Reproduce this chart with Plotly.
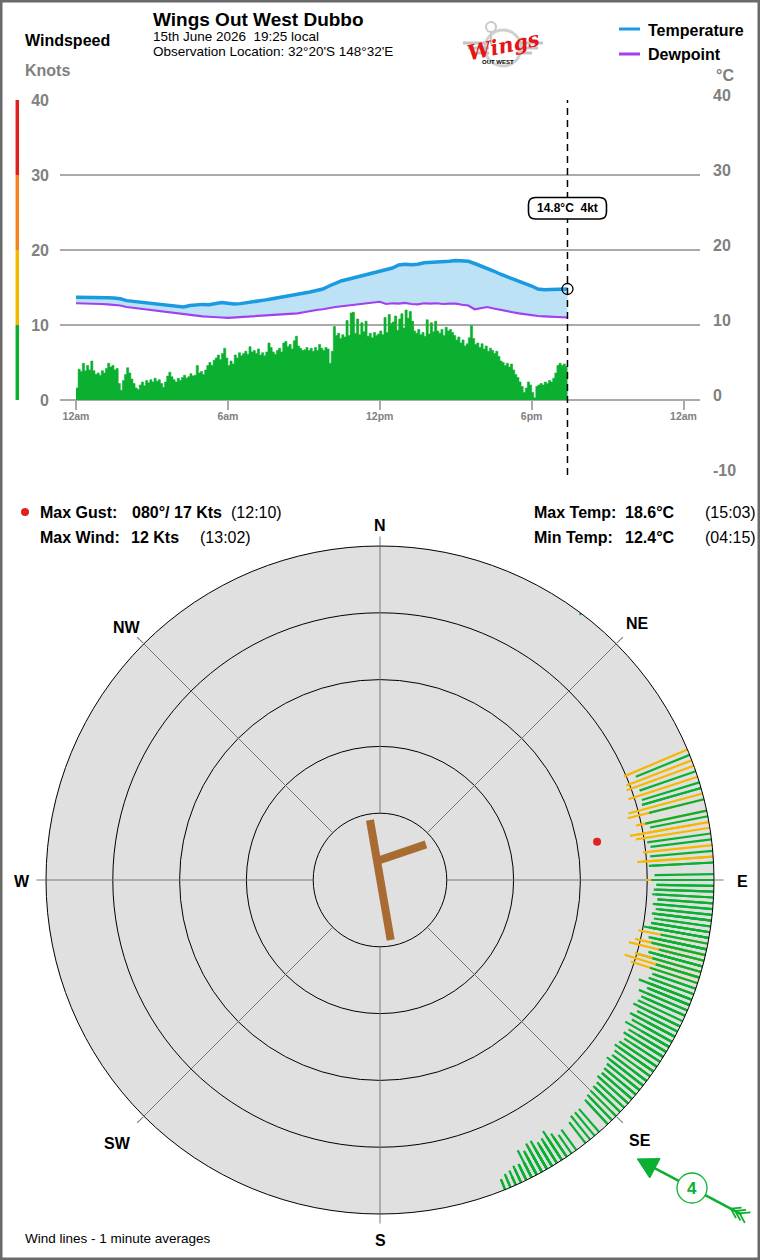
import math
import plotly.graph_objects as go

W, H = 760, 1260
FONT = "Liberation Sans, Arial, Helvetica, sans-serif"
GRAY = "#808080"
GREEN = "#0bb031"
YELLOW = "#f5b700"
ORANGE = "#f5821f"
RED = "#e11f1f"
BLUE = "#1a9ae0"
PURPLE = "#a040f0"
FILL = "#bde2f6"
BROWN = "#a86b32"

# ---------------- data ----------------
# 5-minute wind samples (knots) from 00:00 to 19:25
wind_kts = [
    1.6, 4.1, 3.8, 4.9, 3.9, 4.6, 4.0, 5.2, 3.9, 3.4,
    3.6, 3.3, 3.9, 3.6, 4.2, 4.9, 4.4, 4.6, 4.0, 4.2,
    2.2, 1.3, 2.6, 3.4, 4.3, 3.6, 2.8, 2.2, 1.6, 1.4,
    2.0, 2.4, 1.9, 2.6, 2.3, 2.7, 2.4, 2.9, 2.5, 2.7,
    2.2, 1.7, 2.4, 3.2, 3.7, 3.1, 2.7, 2.4, 2.9, 2.6,
    3.0, 3.3, 2.9, 3.1, 3.5, 3.2, 3.3, 4.6, 3.6, 3.8,
    3.4, 4.0, 4.6, 5.0, 4.6, 5.3, 5.6, 6.0, 5.4, 6.2,
    6.9, 5.6, 4.6, 5.2, 4.8, 6.0, 5.6, 6.3, 5.9, 6.2,
    6.5, 6.1, 7.1, 6.4, 6.6, 6.2, 6.8, 6.0, 6.3, 5.9,
    6.4, 7.6, 7.0, 6.4, 6.1, 6.6, 6.9, 6.4, 7.6, 7.8,
    7.1, 7.4, 6.8, 7.9, 8.5, 7.2, 6.9, 6.6, 6.7, 7.0,
    6.6, 6.9, 6.5, 7.0, 6.6, 7.4, 6.9, 6.6, 7.0, 6.8,
    4.9, 6.5, 9.8, 8.6, 8.9, 8.2, 8.7, 8.4, 10.6, 8.6,
    11.6, 11.7, 8.9, 10.8, 8.7, 10.3, 9.1, 10.5, 8.5, 8.9,
    8.3, 9.0, 8.6, 8.8, 9.2, 8.7, 11.0, 9.0, 11.4, 10.2,
    10.4, 11.2, 9.3, 10.8, 11.5, 9.6, 12.0, 10.9, 11.8, 10.5,
    9.2, 8.9, 9.4, 8.7, 9.0, 8.5, 10.7, 8.8, 10.3, 9.1,
    10.5, 9.2, 8.9, 9.4, 8.6, 9.7, 9.2, 9.4, 9.0, 8.6,
    8.0, 8.4, 7.6, 8.0, 7.2, 7.5, 8.3, 9.9, 8.2, 7.4,
    7.6, 7.0, 7.5, 6.8, 7.2, 6.5, 6.9, 6.6, 6.2, 6.5,
    5.8, 5.2, 5.0, 4.6, 4.9, 4.4, 4.8, 4.0, 3.4, 3.0,
    2.4, 1.8, 1.0, 1.6, 2.4, 2.0, 1.0, 0.3, 1.8, 2.0,
    2.2, 2.0, 2.4, 2.2, 2.6, 2.4, 2.9, 3.6, 4.6, 4.9,
    4.6, 4.8, 4.5, 4.9,
]
# wind direction (degrees true) for the same samples
wind_dir = [
    150, 152, 148, 151, 149, 153, 150, 147, 151, 149,
    150, 148, 152, 149, 146, 150, 148, 151, 147, 149,
    153, 156, 151, 149, 147, 152, 155, 157, 158, 156,
    154, 152, 157, 153, 155, 151, 154, 150, 153, 152,
    155, 158, 153, 150, 148, 151, 154, 156, 152, 154,
    150, 148, 152, 149, 146, 149, 147, 141, 146, 144,
    145, 142, 139, 137, 140, 136, 134, 131, 135, 132,
    128, 133, 137, 134, 136, 131, 133, 129, 132, 130,
    127, 130, 125, 128, 126, 129, 124, 127, 125, 128,
    123, 120, 122, 125, 124, 121, 119, 122, 118, 116,
    118, 115, 117, 113, 111, 114, 116, 112, 114, 111,
    112, 109, 111, 107, 110, 105, 107, 104, 102, 105,
    104, 100, 106, 102, 99, 103, 100, 105, 101, 98,
    104, 107, 99, 103, 97, 106, 100, 108, 96, 102,
    94, 97, 91, 95, 90, 93, 80, 92, 86, 90,
    84, 81, 87, 78, 75, 82, 80, 72, 76, 69,
    74, 71, 78, 68, 73, 76, 70, 79, 67, 74,
    86, 83, 89, 85, 91, 87, 93, 90, 95, 92,
    97, 94, 99, 96, 101, 98, 103, 100, 105, 102,
    106, 104, 108, 107, 110, 109, 112, 111, 114, 113,
    112, 116, 119, 117, 121, 118, 123, 120, 125, 122,
    126, 130, 128, 132, 127, 131, 135, 37, 129, 127,
    124, 126, 122, 125, 121, 123, 120, 122, 119, 121,
    118, 120, 117, 118,
]
# quarter-hourly temperature / dewpoint (deg C), last value at 19:25
temp_hours = [i * 0.25 for i in range(78)] + [19 + 25 / 60]
temp_c = [
    13.7, 13.7, 13.75, 13.7, 13.65, 13.65, 13.6, 13.5, 13.25, 13.15, 13.05, 13.0,
    12.9, 12.75, 12.7, 12.6, 12.5, 12.4, 12.6, 12.7, 12.75, 12.7, 12.85, 13.0,
    12.9, 12.8, 12.85, 12.95, 13.05, 13.2, 13.35, 13.5, 13.65, 13.75, 13.9, 14.0,
    14.2, 14.4, 14.6, 14.8, 15.2, 15.6, 15.9, 16.1, 16.3, 16.5, 16.7, 16.9,
    17.1, 17.3, 17.6, 18.0, 18.1, 18.05, 18.1, 18.3, 18.35, 18.3, 18.45, 18.5,
    18.6, 18.55, 18.5, 18.2, 17.9, 17.6, 17.2, 16.8, 16.5, 16.2, 15.9, 15.6,
    15.2, 14.8, 14.7, 14.75, 14.75, 14.8,
    14.8,
]
dew_c = [
    12.9, 12.9, 12.85, 12.85, 12.8, 12.75, 12.7, 12.6, 12.4, 12.3, 12.2, 12.1,
    12.0, 11.85, 11.7, 11.6, 11.5, 11.4, 11.3, 11.25, 11.15, 11.1, 11.0, 11.0,
    10.95, 11.0, 11.05, 11.1, 11.15, 11.2, 11.25, 11.3, 11.3, 11.35, 11.4, 11.55,
    11.7, 11.9, 12.0, 12.1, 12.3, 12.4, 12.5, 12.65, 12.7, 12.8, 12.9, 13.0,
    13.1, 12.8, 12.9, 12.85, 12.95, 12.8, 12.75, 12.9, 12.85, 12.9, 12.8, 12.85,
    12.85, 12.7, 12.6, 12.1, 12.3, 12.4, 12.2, 12.0, 11.85, 11.7, 11.55, 11.4,
    11.3, 11.2, 11.15, 11.1, 11.05, 11.0,
    11.0,
]
x_tick_vals = [0, 6, 12, 18, 24]
x_tick_text = ["12am", "6am", "12pm", "6pm", "12am"]
y_tick_vals = [-10, 0, 10, 20, 30, 40]
compass_labels = ["N", "NE", "E", "SE", "S", "SW", "W", "NW"]

now_hour = 19 + 25 / 60
current_wind_kts = 4
current_wind_dir = 118
max_gust_kts, max_gust_dir, max_gust_time = 17, 80, "12:10"
max_gust_hour = 12 + 10 / 60
max_wind_kts, max_wind_time = 12, "13:02"
max_temp_time, min_temp_time = "15:03", "04:15"
runway_long_r, runway_long_theta = [9.1, 9.12], [350.5, 169.9]
runway_short_r, runway_short_theta = [3.0, 8.71], [0, 52.2]

wind_hours = [i * 5 / 60 for i in range(len(wind_kts))]


def px(x):
    return x / W


def py(y):
    return 1 - y / H


fig = go.Figure()

# ---------------- top chart ----------------
fig.add_trace(go.Scatter(
    x=wind_hours, y=wind_kts, mode="lines",
    line=dict(color=GREEN, width=0.6, shape="hv"),
    fill="tozeroy", fillcolor=GREEN, xaxis="x", yaxis="y", showlegend=False))
gx = [h for h, v in zip(wind_hours, wind_kts) if v > 10]
gy = [v for v in wind_kts if v > 10]
fig.add_trace(go.Bar(
    x=gx, y=gy, width=5 / 60, offset=0,
    marker=dict(color=YELLOW, line=dict(width=0)),
    xaxis="x", yaxis="y", showlegend=False))
fig.add_trace(go.Scatter(
    x=[max_gust_hour], y=[max_gust_kts], mode="markers",
    marker=dict(color=RED, size=7), xaxis="x", yaxis="y", showlegend=False))
fig.add_trace(go.Scatter(
    x=temp_hours, y=dew_c, mode="lines", name="Dewpoint",
    line=dict(color=PURPLE, width=2.2), xaxis="x", yaxis="y2", showlegend=False))
fig.add_trace(go.Scatter(
    x=temp_hours, y=temp_c, mode="lines", name="Temperature",
    line=dict(color=BLUE, width=3.5), fill="tonexty", fillcolor=FILL,
    xaxis="x", yaxis="y2", showlegend=False))
fig.add_trace(go.Scatter(
    x=[temp_hours[-1]], y=[temp_c[-1]], mode="markers",
    marker=dict(symbol="circle-open", size=11, color="black", line=dict(width=1.3)),
    xaxis="x", yaxis="y2", showlegend=False))

# ---------------- polar chart ----------------
sp_r, sp_t = [], []
for a in range(0, 360, 45):
    sp_r += [10, 50, None]
    sp_t += [a, a, None]
fig.add_trace(go.Scatterpolar(r=sp_r, theta=sp_t, mode="lines",
                              line=dict(color="#787878", width=1), showlegend=False))
for spd, d in zip(wind_kts, wind_dir):
    fig.add_trace(go.Scatterpolar(
        r=[50, 50 - spd], theta=[d, d], mode="lines",
        line=dict(color=YELLOW if spd > 10 else GREEN, width=2.2), showlegend=False))
fig.add_trace(go.Scatterpolar(r=runway_long_r, theta=runway_long_theta, mode="lines",
                              line=dict(color=BROWN, width=8), showlegend=False))
fig.add_trace(go.Scatterpolar(r=runway_short_r, theta=runway_short_theta, mode="lines",
                              line=dict(color=BROWN, width=8), showlegend=False))
fig.add_trace(go.Scatterpolar(r=[50 - max_gust_kts], theta=[max_gust_dir], mode="markers",
                              marker=dict(color=RED, size=8), showlegend=False))

shapes = []
annotations = []


def ann(text, x, y, size=16, color="black", xanchor="left", family=FONT, yanchor="middle", **kw):
    annotations.append(dict(text=text, x=px(x), y=py(y), xref="paper", yref="paper",
                            xanchor=xanchor, yanchor=yanchor, showarrow=False,
                            font=dict(size=size, color=color, family=family), **kw))


# border
shapes.append(dict(type="rect", xref="paper", yref="paper", x0=px(1.25), x1=px(W - 1.25),
                   y0=py(H - 1.25), y1=py(1.25), line=dict(color="#6a6a6a", width=2.5)))
# windspeed colour bar
for lo, hi, c in [(0, 10, GREEN), (10, 20, YELLOW), (20, 30, ORANGE), (30, 40, RED)]:
    shapes.append(dict(type="line", xref="paper", yref="y", x0=px(17.3), x1=px(17.3),
                       y0=lo, y1=hi, line=dict(color=c, width=3.5)))
# now line
shapes.append(dict(type="line", xref="x", yref="y", x0=now_hour, x1=now_hour, y0=-10, y1=40,
                   line=dict(color="black", width=1.5, dash="7px,5px")))
# tooltip box
tip_y = 25.56
shapes.append(dict(type="path", xref="x", yref="y2", xsizemode="pixel", ysizemode="pixel",
                   xanchor=now_hour, yanchor=tip_y,
                   path="M -32,-10.75 L 32,-10.75 Q 39,-10.75 39,-3.75 L 39,3.75 Q 39,10.75 32,10.75 "
                        "L -32,10.75 Q -39,10.75 -39,3.75 L -39,-3.75 Q -39,-10.75 -32,-10.75 Z",
                   fillcolor="white", line=dict(color="black", width=1.6)))
annotations.append(dict(text=f"<b>{temp_c[-1]:.1f}°C\u00a0\u00a0{current_wind_kts}kt</b>",
                        x=now_hour, y=tip_y, xref="x", yref="y2", showarrow=False,
                        font=dict(size=12, color="black", family=FONT)))
# legend
for yy, c, name in [(29, BLUE, "Temperature"), (54, PURPLE, "Dewpoint")]:
    shapes.append(dict(type="line", xref="paper", yref="paper", x0=px(619), x1=px(640),
                       y0=py(yy), y1=py(yy), line=dict(color=c, width=3)))
    ann(f"<b>{name}</b>", 646, yy + 1, 16)

# header texts
ann("<b>Windspeed</b>", 23, 40, 16)
ann("<b>Knots</b>", 23, 70.5, 16, GRAY)
ann("<b>°C</b>", 714, 75.5, 16, GRAY)
ann("<span style='font-size:19px'><b>Wings Out West Dubbo</b></span><br>"
    "<span style='font-size:13.5px'>15th June 2026\u00a0\u00a019:25 local</span><br>"
    "<span style='font-size:13.5px'>Observation Location: 32°20'S 148°32'E</span>",
    151, 7, 11.6, yanchor="top", align="left")

# logo (approximation)
shapes.append(dict(type="circle", xref="paper", yref="paper", x0=px(485), x1=px(521),
                   y0=py(66), y1=py(30), line=dict(color="#d0d0d0", width=3)))
for y0, xl in [(43, 463), (48, 468), (53, 474)]:
    shapes.append(dict(type="line", xref="paper", yref="paper", x0=px(xl), x1=px(489),
                       y0=py(y0), y1=py(y0), line=dict(color="#c4c4c4", width=3)))
    shapes.append(dict(type="line", xref="paper", yref="paper", x0=px(517), x1=px(1006 - xl),
                       y0=py(y0), y1=py(y0), line=dict(color="#c4c4c4", width=3)))
shapes.append(dict(type="circle", xref="paper", yref="paper", x0=px(486), x1=px(496),
                   y0=py(32), y1=py(22), line=dict(color="#c8c8c8", width=2)))
shapes.append(dict(type="line", xref="paper", yref="paper", x0=px(491), x1=px(491),
                   y0=py(32), y1=py(44), line=dict(color="#c8c8c8", width=2)))
ann("<b><i>Wings</i></b>", 504, 46, 21, "#e3151a", xanchor="center",
    family="DejaVu Serif, serif", textangle=-12)
ann("<b>OUT WEST</b>", 498, 61.5, 6, "black", xanchor="center")

# stats
shapes.append(dict(type="circle", xref="paper", yref="paper", x0=px(21), x1=px(29),
                   y0=py(516), y1=py(508), fillcolor=RED, line=dict(width=0)))
ann("<b>Max Gust:</b>", 38, 512)
ann(f"<b>{max_gust_dir:03d}°/ {max_gust_kts} Kts</b>", 130, 512)
ann(f"({max_gust_time})", 229, 512)
ann("<b>Max Wind:</b>", 38, 537)
ann(f"<b>{max_wind_kts} Kts</b>", 129, 537)
ann(f"({max_wind_time})", 198, 537)
ann("<b>Max Temp:</b>", 532, 512)
ann(f"<b>{max(temp_c):.1f}°C</b>", 623, 512)
ann(f"({max_temp_time})", 703, 512)
ann("<b>Min Temp:</b>", 532, 537)
ann(f"<b>{min(temp_c):.1f}°C</b>", 623, 537)
ann(f"({min_temp_time})", 703, 537)

# compass labels
cx, cy = 380, 880
label_r = [356, 364, 362, 367, 359, 371, 358, 358]
for i, lab in enumerate(compass_labels):
    a = math.radians(i * 45)
    ann(f"<b>{lab}</b>", cx + label_r[i] * math.sin(a), cy - label_r[i] * math.cos(a) + 1,
        16, xanchor="center")

ann("Wind lines - 1 minute averages", 23, 1238, 13.5)

# current wind indicator
ccx, ccy, crad = 692, 1188, 15
b = math.radians(current_wind_dir + 180)
ux, uy = math.sin(b), -math.cos(b)
vx, vy = -uy, ux


def P(d, s=0):
    return ccx + ux * d + vx * s, ccy + uy * d + vy * s


def seg(p0, p1, w=2.5):
    shapes.append(dict(type="line", xref="paper", yref="paper", x0=px(p0[0]), y0=py(p0[1]),
                       x1=px(p1[0]), y1=py(p1[1]), line=dict(color=GREEN, width=w)))


seg(P(crad), P(44))
tip, bl, br = P(62), P(42, 11), P(42, -11)
shapes.append(dict(type="path", xref="paper", yref="paper",
                   path=f"M {px(tip[0])},{py(tip[1])} L {px(bl[0])},{py(bl[1])} "
                        f"L {px(br[0])},{py(br[1])} Z",
                   fillcolor=GREEN, line=dict(color=GREEN, width=1)))
seg(P(-crad), P(-56))
for d in (-44, -49, -54):
    seg(P(d), P(d - 9, 6), 1.8)
    seg(P(d), P(d - 9, -6), 1.8)
shapes.append(dict(type="circle", xref="paper", yref="paper", x0=px(ccx - crad), x1=px(ccx + crad),
                   y0=py(ccy + crad), y1=py(ccy - crad), fillcolor="white",
                   line=dict(color=GREEN, width=1.3)))
ann(f"<b>{current_wind_kts}</b>", ccx, ccy + 0.5, 17, GREEN, xanchor="center")

fig.update_layout(
    width=W, height=H, margin=dict(l=0, r=0, t=0, b=0, pad=0, autoexpand=False),
    paper_bgcolor="white", plot_bgcolor="white", hovermode=False,
    showlegend=False, bargap=0, font=dict(family=FONT),
    xaxis=dict(domain=[px(60), px(700)], range=[-16 / 25.3125, 624 / 25.3125],
               anchor="free", position=py(400), showgrid=False, zeroline=False, showline=False,
               automargin=False, ticklabelstandoff=-3,
               tickvals=x_tick_vals, ticktext=x_tick_text, ticks="outside", ticklen=9,
               tickwidth=1.5, tickcolor="#aaaaaa",
               tickfont=dict(size=10.5, color=GRAY, family=FONT, weight="bold")),
    yaxis=dict(domain=[py(475), py(100)], range=[-10, 40], tickvals=y_tick_vals,
               ticktext=["", "0", "10", "20", "30", "40"], showgrid=True, automargin=False,
               gridcolor="#aaaaaa", gridwidth=1.5, zeroline=False, showline=False,
               ticklabelstandoff=10,
               tickfont=dict(size=16, color=GRAY, family=FONT, weight="bold")),
    yaxis2=dict(overlaying="y", side="right", anchor="x", range=[-10, 40], automargin=False,
                tickvals=y_tick_vals, ticktext=[str(v) for v in y_tick_vals],
                showgrid=False, zeroline=False, showline=False, ticklabelstandoff=12,
                ticklabelshift=-5,
                tickfont=dict(size=16, color=GRAY, family=FONT, weight="bold")),
    polar=dict(
        domain=dict(x=[px(46), px(714)], y=[py(1214), py(546)]),
        bgcolor="#e0e0e0",
        radialaxis=dict(range=[0, 50], tickvals=[10, 20, 30, 40], showticklabels=False,
                        ticks="", showline=False, gridcolor="black", gridwidth=1),
        angularaxis=dict(rotation=90, direction="clockwise", tickvals=list(range(0, 360, 45)),
                         showticklabels=False, ticks="outside", ticklen=9, tickcolor="#787878",
                         tickwidth=1, showgrid=False, showline=True, linecolor="black",
                         linewidth=1),
    ),
    shapes=shapes, annotations=annotations,
)

fig.write_html(
    "out.html",
    post_script=(
        "document.documentElement.style.margin='0';"
        "document.body.style.margin='0';document.body.style.padding='0';"
        "var g=document.getElementsByClassName('plotly-graph-div')[0];"
        "g.style.position='absolute';g.style.left='0px';g.style.top='0px';"
    ),
)
